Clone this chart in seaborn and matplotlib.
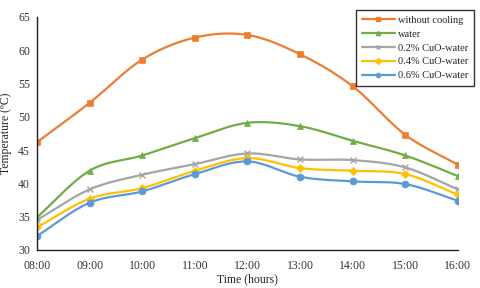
import numpy as np
import pandas as pd
import matplotlib
matplotlib.use("Agg")
import matplotlib.pyplot as plt
import seaborn as sns

times = ["08:00", "09:00", "10:00", "11:00", "12:00", "13:00", "14:00", "15:00", "16:00"]
without_cooling = [46.2, 52.1, 58.6, 61.9, 62.3, 59.4, 54.6, 47.3, 42.8]
water = [34.9, 41.9, 44.2, 46.8, 49.1, 48.6, 46.4, 44.2, 41.1]
cuo_02 = [34.5, 39.1, 41.3, 42.9, 44.5, 43.6, 43.5, 42.4, 39.1]
cuo_04 = [33.4, 37.7, 39.3, 41.9, 43.8, 42.3, 41.9, 41.4, 38.3]
cuo_06 = [32.1, 37.1, 38.8, 41.4, 43.3, 41.0, 40.3, 39.9, 37.4]

series = {
    "without cooling": without_cooling,
    "water": water,
    "0.2% CuO-water": cuo_02,
    "0.4% CuO-water": cuo_04,
    "0.6% CuO-water": cuo_06,
}
colors = ["#ED7D31", "#70AD47", "#A5A5A5", "#FFC000", "#5B9BD5"]
markers = ["s", "^", "x", "D", "o"]
msizes = [5, 5, 5, 4, 5]


def smooth(x, y, n=20):
    x = np.asarray(x, float)
    y = np.asarray(y, float)
    px = np.concatenate([[2 * x[0] - x[1]], x, [2 * x[-1] - x[-2]]])
    py = np.concatenate([[2 * y[0] - y[1]], y, [2 * y[-1] - y[-2]]])
    xs, ys = [], []
    for i in range(1, len(px) - 2):
        t = np.linspace(0, 1, n, endpoint=False)
        for arr, out in ((px, xs), (py, ys)):
            p0, p1, p2, p3 = arr[i - 1], arr[i], arr[i + 1], arr[i + 2]
            out.extend(0.5 * ((2 * p1) + (-p0 + p2) * t
                              + (2 * p0 - 5 * p1 + 4 * p2 - p3) * t ** 2
                              + (-p0 + 3 * p1 - 3 * p2 + p3) * t ** 3))
    xs.append(x[-1]); ys.append(y[-1])
    return np.array(xs), np.array(ys)


sns.set_theme(style="white")
plt.rcParams["font.family"] = ["Liberation Serif", "DejaVu Serif"]

fig = plt.figure(figsize=(4.8, 2.88), dpi=100)
ax = fig.add_axes([0.077, 0.132, 0.877, 0.809])

xpos = np.arange(len(times))
handles = []
for (name, vals), c, m, ms in zip(series.items(), colors, markers, msizes):
    sx, sy = smooth(xpos, vals)
    df = pd.DataFrame({"x": sx, "y": sy})
    sns.lineplot(data=df, x="x", y="y", ax=ax, color=c, linewidth=1.6, sort=False)
    ax.plot(xpos, vals, linestyle="none", marker=m, color=c, markersize=ms,
            markeredgewidth=1.0 if m == "x" else 0.5)
    handles.append(plt.Line2D([], [], color=c, linewidth=1.6, marker=m, markersize=3,
                              label=name))

ax.set_xlim(0, 8)
ax.set_ylim(30, 65)
ax.set_xticks(xpos)
ax.set_xticklabels(times)
ax.set_yticks(range(30, 66, 5))
ax.tick_params(axis="both", length=0, labelsize=8.5, colors="#333333")
ax.tick_params(axis="x", pad=7)
ax.tick_params(axis="y", pad=5)
ax.set_xlabel("Time (hours)", fontsize=8.5, labelpad=1)
ax.set_ylabel("Temperature (ºC)", fontsize=8.5, labelpad=4)
for s in ["top", "right"]:
    ax.spines[s].set_visible(False)
for s in ["left", "bottom"]:
    ax.spines[s].set_color("#222222")
    ax.spines[s].set_linewidth(1.0)

leg = fig.legend(handles=handles, loc="upper right", bbox_to_anchor=(0.999, 0.985),
                 fontsize=7.5, frameon=True, fancybox=False, handlelength=3.2,
                 labelspacing=0.45, borderpad=0.55, handletextpad=0.3)
leg.get_frame().set_edgecolor("black")
leg.get_frame().set_linewidth(1.0)

fig.savefig("out.png", dpi=100)
